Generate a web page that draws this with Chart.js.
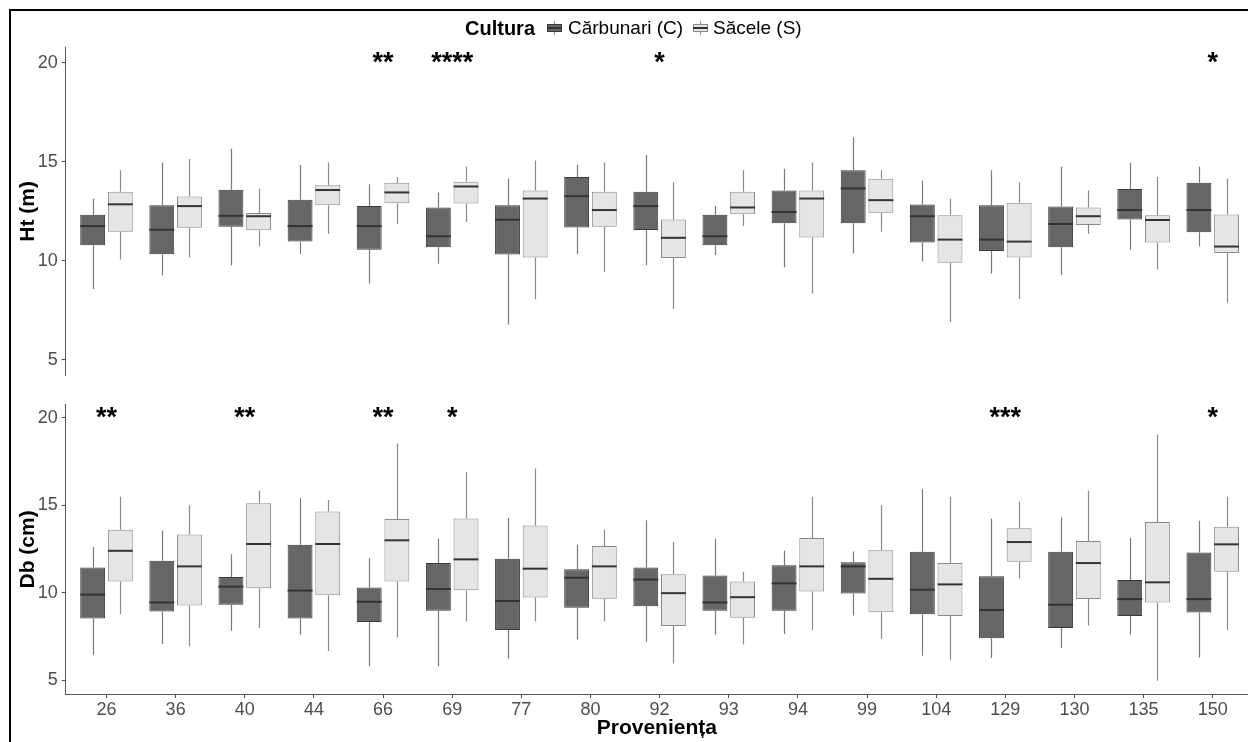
<!DOCTYPE html>
<html>
<head>
<meta charset="utf-8">
<script src="https://cdn.jsdelivr.net/npm/chart.js@4.4.1/dist/chart.umd.min.js"></script>
<style>
html,body{margin:0;padding:0;background:#fff;overflow:hidden;width:1248px;height:742px;}
body{position:relative;font-family:"Liberation Sans",Arial,sans-serif;}
#frame{position:absolute;left:9px;top:9px;width:1320px;height:820px;border:2px solid #000;box-sizing:border-box;}
#cTop{position:absolute;left:0;top:0;}
#cBot{position:absolute;left:0;top:390px;}
.lg{position:absolute;white-space:nowrap;line-height:22px;color:#000;}
.key{position:absolute;width:15px;height:14px;}
.key .wh{position:absolute;left:7px;top:0;width:1px;height:14px;background:#8a8a8a;}
.key .bx{position:absolute;left:0;top:3px;width:15px;height:8px;box-sizing:border-box;border:1px solid;}
.key .md{position:absolute;left:0;top:6px;width:15px;height:2px;background:#333;}
</style>
</head>
<body>
<div id="frame"></div>
<canvas id="cTop" width="1248" height="390"></canvas>
<canvas id="cBot" width="1248" height="352"></canvas>

<div class="lg" style="left:465px;top:17px;font-size:20px;font-weight:bold;">Cultura</div>
<div class="key" style="left:547px;top:21px;"><div class="wh"></div><div class="bx" style="background:#666666;border-color:#3a3a3a;"></div><div class="md"></div></div>
<div class="lg" style="left:568px;top:17px;font-size:19px;">Cărbunari (C)</div>
<div class="key" style="left:693px;top:21px;"><div class="wh"></div><div class="bx" style="background:#e5e5e5;border-color:#8a8a8a;"></div><div class="md"></div></div>
<div class="lg" style="left:713px;top:17px;font-size:19px;">Săcele (S)</div>

<script>
// ---------- data ----------
const categories = ['26','36','40','44','66','69','77','80','92','93','94','99','104','129','130','135','150'];
const seriesNames = ['Cărbunari (C)', 'Săcele (S)'];
const yTicks = [5, 10, 15, 20];

// five-number summaries per category: [min, q1, median, q3, max]
const htC = [
  [8.58,10.79,11.75,12.32,13.13],[9.26,10.33,11.57,12.80,14.96],[9.77,11.72,12.27,13.58,15.65],
  [10.35,10.98,11.75,13.08,14.83],[8.84,10.56,11.75,12.76,13.86],[9.85,10.68,11.24,12.69,13.45],
  [6.79,10.32,12.07,12.80,14.15],[10.33,11.68,13.26,14.23,14.85],[9.77,11.55,12.76,13.49,15.34],
  [10.29,10.79,11.24,12.32,12.76],[9.67,11.89,12.46,13.55,14.64],[10.37,11.89,13.65,14.57,16.23],
  [9.96,10.93,12.25,12.84,14.05],[9.36,10.49,11.07,12.80,14.57],[9.28,10.68,11.86,12.74,14.74],
  [10.56,12.09,12.56,13.62,14.95],[10.74,11.44,12.56,13.94,14.74]
];
const htS = [
  [10.06,11.47,12.85,13.49,14.57],[10.18,11.67,12.76,13.24,15.13],[10.74,11.54,12.25,12.41,13.63],
  [11.36,12.80,13.57,13.81,14.96],[11.85,12.90,13.45,13.94,14.23],[11.96,12.89,13.75,13.99,14.74],
  [8.06,10.17,13.14,13.55,15.06],[9.44,11.72,12.56,13.49,14.96],[7.57,10.14,11.16,12.09,13.96],
  [11.75,12.35,12.69,13.49,14.57],[8.35,11.17,13.14,13.55,14.96],[11.47,12.43,13.06,14.14,14.57],
  [6.90,9.90,11.07,12.30,13.13],[8.08,10.17,10.97,12.93,13.96],[11.36,11.81,12.25,12.69,13.55],
  [9.57,10.93,12.06,12.30,14.23],[7.88,10.40,10.72,12.33,14.14]
];
const dbC = [
  [6.46,8.54,9.91,11.45,12.63],[7.08,8.94,9.46,11.84,13.57],[7.85,9.33,10.36,10.92,12.22],
  [7.61,8.54,10.14,12.76,15.42],[5.82,8.34,9.50,10.32,11.99],[5.81,8.99,10.23,11.71,13.10],
  [6.24,7.89,9.54,11.96,14.28],[7.34,9.16,10.87,11.36,12.76],[7.21,9.24,10.77,11.45,14.15],
  [7.62,8.99,9.46,11.00,13.10],[7.66,8.99,10.55,11.58,12.41],[8.71,9.97,11.52,11.75,12.37],
  [6.42,8.79,10.19,12.35,15.93],[6.29,7.42,9.03,10.96,14.24],[6.86,8.00,9.33,12.35,14.32],
  [7.61,8.69,9.65,10.74,13.16],[6.31,8.88,9.65,12.31,14.13]
];
const dbS = [
  [8.79,10.66,12.41,13.61,15.50],[6.95,9.29,11.52,13.34,15.01],[8.00,10.27,12.80,15.12,15.84],
  [6.69,9.87,12.80,14.66,15.31],[7.46,10.66,13.01,14.22,18.54],[8.39,10.16,11.92,14.26,16.91],
  [8.39,9.74,11.39,13.85,17.11],[8.39,9.67,11.52,12.69,13.62],[5.97,8.11,9.99,11.07,12.91],
  [7.06,8.58,9.76,10.66,11.21],[7.89,10.08,11.52,13.14,15.50],[7.38,8.90,10.81,12.44,15.01],
  [6.18,8.69,10.49,11.71,15.50],[10.81,11.79,12.91,13.70,15.22],[8.15,9.65,11.71,12.97,15.84],
  [4.98,9.46,10.61,14.06,19.04],[7.89,11.21,12.78,13.79,15.50]
];
// significance labels (drawn at y = 20)
const sigHt = ['','','','','**','****','','','*','','','','','','','','*'];
const sigDb = ['**','','**','','**','*','','','','','','','','***','','','*'];
const sigLevel = 20;

// ---------- styles ----------
const FONT = '"Liberation Sans", Arial, sans-serif';
const DARK = {fill:'#666666', border:'#3a3a3a', whisker:'#7a7a7a'};
const LIGHT = {fill:'#e5e5e5', border:'#8a8a8a', whisker:'#8a8a8a'};

const boxPlugin = {
  id: 'boxParts',
  beforeDatasetsDraw(chart) {
    const ctx = chart.ctx, ys = chart.scales.y;
    chart.data.datasets.forEach((ds, di) => {
      const meta = chart.getDatasetMeta(di);
      ctx.save();
      ctx.strokeStyle = ds.whiskerColor;
      ctx.lineWidth = 1.2;
      meta.data.forEach((el, i) => {
        const s = ds.stats[i];
        const x = Math.round(el.x) + 0.5;
        ctx.beginPath();
        ctx.moveTo(x, ys.getPixelForValue(s[0]));
        ctx.lineTo(x, ys.getPixelForValue(s[1]));
        ctx.moveTo(x, ys.getPixelForValue(s[3]));
        ctx.lineTo(x, ys.getPixelForValue(s[4]));
        ctx.stroke();
      });
      ctx.restore();
    });
  },
  afterDatasetsDraw(chart, args, opts) {
    const ctx = chart.ctx, ys = chart.scales.y, xs = chart.scales.x;
    chart.data.datasets.forEach((ds, di) => {
      const meta = chart.getDatasetMeta(di);
      ctx.save();
      ctx.strokeStyle = '#333333';
      ctx.lineWidth = 2;
      meta.data.forEach((el, i) => {
        const y = ys.getPixelForValue(ds.stats[i][2]);
        ctx.beginPath();
        ctx.moveTo(el.x - el.width / 2, y);
        ctx.lineTo(el.x + el.width / 2, y);
        ctx.stroke();
      });
      ctx.restore();
    });
    ctx.save();
    ctx.fillStyle = '#000';
    ctx.font = 'bold 27px ' + FONT;
    ctx.textAlign = 'center';
    ctx.textBaseline = 'alphabetic';
    (opts.labels || []).forEach((t, i) => {
      if (!t) return;
      ctx.fillText(t, xs.getPixelForValue(i), ys.getPixelForValue(sigLevel) + 8);
    });
    ctx.restore();
  }
};

function makeDatasets(c, s) {
  const mk = (stats, name, st) => ({
    label: name,
    data: stats.map((v, i) => ({x: i, y: [v[1], v[3]]})),
    stats: stats,
    backgroundColor: st.fill,
    borderColor: st.border,
    borderWidth: 1,
    borderSkipped: false,
    whiskerColor: st.whisker,
    categoryPercentage: 0.8,
    barPercentage: 0.9
  });
  return [mk(c, seriesNames[0], DARK), mk(s, seriesNames[1], LIGHT)];
}

function yScale(title, titleTop) {
  return {
    type: 'linear', min: 4.23, max: 20.75,
    afterBuildTicks: s => { s.ticks = yTicks.map(v => ({value: v})); },
    afterFit: s => { s.width = 65.7; },
    ticks: {font: {size: 18, family: FONT}, color: '#4d4d4d', padding: 4},
    grid: {display: true, drawOnChartArea: false, drawTicks: true, tickLength: 4, color: '#4d4d4d', lineWidth: 1},
    border: {display: true, color: '#5a5a5a', width: 1},
    title: {display: true, text: title, color: '#000', font: {size: 21, weight: 'bold', family: FONT}, padding: {top: titleTop, bottom: 0}}
  };
}

function xScale(show) {
  return {
    type: 'linear', min: -0.59, max: 16.51, display: show, offset: false,
    afterBuildTicks: s => { s.ticks = categories.map((c, i) => ({value: i})); },
    afterFit: s => { if (show) s.height = 48; },
    ticks: {font: {size: 18, family: FONT}, color: '#4d4d4d', padding: 1, autoSkip: false, maxRotation: 0,
            callback: v => categories[v]},
    grid: {display: true, offset: false, drawOnChartArea: false, drawTicks: true, tickLength: 4, color: '#4d4d4d', lineWidth: 1},
    border: {display: true, color: '#5a5a5a', width: 1},
    title: {display: show, text: 'Provenienț\u0061'.slice(0, 11), color: '#000', font: {size: 21, weight: 'bold', family: FONT}, padding: {top: 0, bottom: 1.4}}
  };
}

Chart.defaults.font.family = FONT;

new Chart(document.getElementById('cTop'), {
  type: 'bar',
  data: {datasets: makeDatasets(htC, htS)},
  options: {
    responsive: false, animation: false,
    layout: {padding: {top: 47.7, bottom: 3.3, left: 0, right: 0}},
    plugins: {legend: {display: false}, tooltip: {enabled: false}, boxParts: {labels: sigHt}},
    scales: {x: xScale(false), y: yScale('Ht (m)', 15.4)}
  },
  plugins: [boxPlugin]
});

new Chart(document.getElementById('cBot'), {
  type: 'bar',
  data: {datasets: makeDatasets(dbC, dbS)},
  options: {
    responsive: false, animation: false,
    layout: {padding: {top: 10, bottom: 0, left: 0, right: 0}},
    plugins: {legend: {display: false}, tooltip: {enabled: false}, boxParts: {labels: sigDb}},
    scales: {x: xScale(true), y: yScale('Db (cm)', 15.4)}
  },
  plugins: [boxPlugin]
});
</script>
</body>
</html>
